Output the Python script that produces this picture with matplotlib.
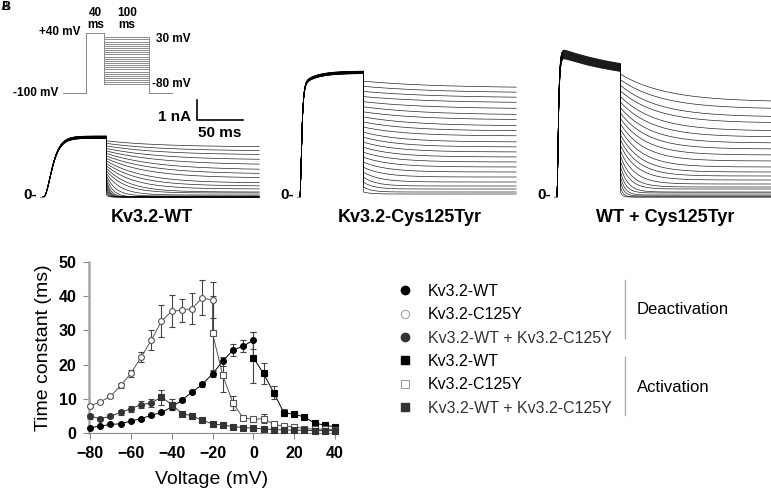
import numpy as np
import matplotlib.pyplot as plt
from matplotlib.lines import Line2D

plt.rcParams['font.family'] = ['Liberation Sans', 'DejaVu Sans']

W, H = 771, 492
fig = plt.figure(figsize=(W / 100, H / 100), dpi=100)


def px_axes(left, top, right, bottom):
    # axes placed by pixel box (origin top-left)
    return fig.add_axes([left / W, 1 - bottom / H, (right - left) / W, (bottom - top) / H])


# ---------------- time constants (lower plot) ----------------
wt_deact_v = [-80, -75, -70, -65, -60, -55, -50, -45, -40, -35, -30, -25, -20, -15, -10, -5, 0]
wt_deact = [1.6, 2.0, 2.5, 2.7, 3.5, 4.2, 5.2, 6.0, 7.6, 9.6, 12.0, 14.2, 17.3, 21.0, 24.2, 25.4, 27.1]
wt_deact_err = [0.2, 0.2, 0.2, 0.3, 0.3, 0.3, 0.4, 0.4, 0.5, 0.5, 0.6, 0.8, 1.0, 1.3, 1.7, 1.8, 2.4]

mut_deact_v = [-80, -75, -70, -65, -60, -55, -50, -45, -40, -35, -30, -25, -20]
mut_deact = [7.9, 9.1, 10.7, 13.9, 17.4, 22.2, 27.1, 32.7, 35.6, 35.9, 36.4, 39.5, 38.8]
mut_deact_err = [0.4, 0.4, 0.5, 0.6, 1.1, 1.5, 2.9, 4.6, 4.7, 3.4, 4.4, 5.1, 5.3]

mix_deact_v = [-80, -75, -70, -65, -60, -55, -50]
mix_deact = [4.9, 4.2, 4.9, 6.0, 7.1, 8.3, 8.8]
mix_deact_err = [0.8, 0.5, 0.6, 0.7, 0.9, 1.0, 1.2]

wt_act_v = [0, 5, 10, 15, 20, 25, 30, 35, 40]
wt_act = [22.0, 17.4, 11.8, 5.9, 5.5, 4.7, 2.9, 2.3, 1.8]
wt_act_err = [7.5, 3.0, 2.0, 1.0, 0.5, 0.4, 0.3, 0.2, 0.2]

mut_act_v = [-20, -15, -10, -5, 0, 5, 10, 15, 20, 25, 30, 35, 40]
mut_act = [29.2, 16.9, 8.8, 4.4, 4.0, 4.2, 2.5, 2.0, 1.8, 1.3, 1.1, 1.1, 1.0]
mut_act_err = [11.0, 5.0, 2.0, 0.6, 0.8, 1.3, 0.4, 0.3, 0.3, 0.2, 0.2, 0.2, 0.2]

mix_act_v = [-45, -40, -35, -30, -25, -20, -15, -10, -5, 0, 5, 10, 15, 20, 25, 30, 35, 40]
mix_act = [10.5, 8.3, 5.7, 5.0, 3.7, 2.7, 2.3, 1.9, 1.6, 1.4, 1.2, 1.0, 0.9, 0.8, 0.8, 0.7, 0.7, 0.7]
mix_act_err = [2.2, 1.5, 0.8, 0.7, 0.4, 0.3, 0.2, 0.2, 0.2, 0.1, 0.1, 0.1, 0.1, 0.1, 0.1, 0.1, 0.1, 0.1]

# ---------------- current traces (upper panels) ----------------
tail_v = [30, 25, 20, 15, 10, 5, 0, -5, -10, -15, -20, -25, -30, -35, -40, -45, -50, -55, -60, -65, -70, -75, -80]
V_STEP, V_HOLD, E_K = 40, -100, -85

wt_tail_end = [2.5, 2.3, 2.1, 1.85, 1.6, 1.35, 1.15, 0.95, 0.7, 0.55, 0.4, 0.25, 0.2, 0.1, 0.05, 0, 0, 0, 0, 0, 0, 0, 0]
wt_tail_tau = [60, 60, 60, 60, 60, 55, 50, 45, 40, 35, 30, 25, 20, 15, 10, 7, 5, 4, 3.5, 3, 2.5, 2.2, 1.5]
mut_tail_end = [5.45, 5.2, 4.95, 4.7, 4.4, 4.1, 3.85, 3.55, 3.3, 3.05, 2.75, 2.5, 2.25, 2.0, 1.75, 1.5,
                1.25, 1.0, 0.75, 0.55, 0.4, 0.25, 0.15]
mut_tail_tau = [80, 80, 80, 75, 70, 65, 60, 55, 50, 45, 40, 38, 36, 34, 32, 30, 26, 22, 18, 14, 11, 9, 8]
mix_tail_end = [4.75, 4.4, 4.0, 3.7, 3.3, 3.0, 2.7, 2.4, 2.1, 1.8, 1.5, 1.25, 1.05, 0.85, 0.65, 0.5,
                0.4, 0.25, 0.2, 0.1, 0.05, 0, 0]
mix_tail_tau = [50, 45, 42, 40, 38, 35, 32, 30, 28, 26, 24, 22, 20, 18, 15, 12, 10, 8, 6, 5, 4, 3, 2]

STEP_MS, TAIL_MS = 69, 166
t_step = np.linspace(0, STEP_MS, 400)
t_tail = np.linspace(0, TAIL_MS, 600)

# step currents (nA) for the +40 mV pulse
wt_step = 3.05 * (1 - np.exp(-t_step / 6.5)) ** 3
mut_step = 5.6 * (1 - np.exp(-t_step / 1.5)) ** 2 + 0.7 * (1 - np.exp(-t_step / 15))
mix_step = 7.5 * (1 - np.exp(-t_step / 1.2)) ** 2 * (0.81 + 0.19 * np.exp(-t_step / 80))

MS_PER_PX = 50 / 46
PX_PER_NA = 20
ZERO_Y = 197


def trace_panel(x_start, step, spread, tail_end, tail_tau):
    left, right, top, bottom = x_start - 30, x_start + 240, 20, 212
    ax = px_axes(left, top, right, bottom)
    ax.set_xlim((left - x_start) * MS_PER_PX, (right - x_start) * MS_PER_PX)
    ax.set_ylim((ZERO_Y - bottom) / PX_PER_NA, (ZERO_Y - top) / PX_PER_NA)
    ax.axis('off')
    scales = np.linspace(1.0, 1.0 - spread, len(tail_v))
    for v, s, i_end, tau in zip(tail_v, scales, tail_end, tail_tau):
        i_step = step * s
        i0 = i_step[-1] * (v - E_K) / (V_STEP - E_K)
        i_tail = i_end + (i0 - i_end) * np.exp(-t_tail / tau)
        ax.plot(np.concatenate([t_step, STEP_MS + t_tail]),
                np.concatenate([i_step, i_tail]), color='black', lw=0.5, alpha=0.85)
    ax.plot([-3.5, 0], [0, 0], color='#888888', lw=0.8)
    ax.text(-6, 0.1, '0-', ha='right', va='center', fontsize=11, fontweight='bold')
    return ax


ax_wt = trace_panel(43, wt_step, 0.04, wt_tail_end, wt_tail_tau)
ax_mut = trace_panel(300, mut_step, 0.02, mut_tail_end, mut_tail_tau)
ax_mix = trace_panel(557, mix_step, 0.06, mix_tail_end, mix_tail_tau)

fig.text(152 / W, 1 - 218 / H, 'Kv3.2-WT', fontsize=13, fontweight='bold', ha='center', va='center')
fig.text(410 / W, 1 - 218 / H, 'Kv3.2-Cys125Tyr', fontsize=13, fontweight='bold', ha='center', va='center')
fig.text(665 / W, 1 - 218 / H, 'WT + Cys125Tyr', fontsize=13, fontweight='bold', ha='center', va='center')

# scale bar (1 nA, 50 ms) in WT panel units
sb_t, sb_i = 167, 3.85
ax_wt.plot([sb_t, sb_t, sb_t + 50], [sb_i + 1, sb_i, sb_i], color='black', lw=1.2)
ax_wt.text(sb_t - 6, sb_i + 0.15, '1 nA', ha='right', va='center', fontsize=11, fontweight='bold')
ax_wt.text(sb_t + 25, sb_i - 0.65, '50 ms', ha='center', va='center', fontsize=11, fontweight='bold')

# voltage protocol
ax_p = px_axes(20, 5, 200, 100)
P_MS_PER_PX, P_PX_PER_MV, P_X0 = 2.2, 60 / 140, 63
ax_p.set_xlim((20 - P_X0) * P_MS_PER_PX, (200 - P_X0) * P_MS_PER_PX)
ax_p.set_ylim(V_HOLD - (100 - 93) / P_PX_PER_MV, V_HOLD + (93 - 5) / P_PX_PER_MV)
ax_p.axis('off')
for v in tail_v:
    ax_p.plot([0, 50, 50, 90, 90, 190, 190, 240],
              [V_HOLD, V_HOLD, V_STEP, V_STEP, v, v, V_HOLD, V_HOLD], color='#8c8c8c', lw=0.7)
pk = dict(fontsize=8.5, fontweight='bold', va='center')
ax_p.text(38, 42, '+40 mV', ha='right', **pk)
ax_p.text(-11, -100, '-100 mV', ha='right', **pk)
ax_p.text(205, 26, '30 mV', ha='left', **pk)
ax_p.text(196, -80, '-80 mV', ha='left', **pk)
ax_p.text(72, 72, '40\nms', ha='center', linespacing=1.0, **pk)
ax_p.text(141, 72, '100\nms', ha='center', linespacing=1.0, **pk)

fig.text(1 / W, 1 - 7 / H, 'A', fontsize=9, fontweight='bold', va='center', color='#555555')
fig.text(1 / W, 1 - 7 / H, 'B', fontsize=9, fontweight='bold', va='center')

# ---------------- time-constant plot ----------------
ax = px_axes(89, 262, 336, 433)
ax.set_xlim(-80.5, 40.5)
ax.set_ylim(0, 50)

groups = [
    (wt_deact_v, wt_deact, wt_deact_err, wt_act_v, wt_act, wt_act_err, 'black', 'black', 'black'),
    (mut_deact_v, mut_deact, mut_deact_err, mut_act_v, mut_act, mut_act_err, 'white', '#555555', '#555555'),
    (mix_deact_v, mix_deact, mix_deact_err, mix_act_v, mix_act, mix_act_err, '#333333', '#333333', '#333333'),
]
for dv, dt, de, av, at, ae, fc, ec, lc in groups:
    ax.plot(dv + av, dt + at, color=lc, lw=0.7, zorder=1, clip_on=False)
    ax.errorbar(dv, dt, yerr=de, fmt='none', ecolor='#444444', elinewidth=0.8,
                capsize=2.5, capthick=0.8, zorder=2, clip_on=False)
    ax.errorbar(av, at, yerr=ae, fmt='none', ecolor='#444444', elinewidth=0.8,
                capsize=2.5, capthick=0.8, zorder=2, clip_on=False)
    ax.plot(dv, dt, ls='none', marker='o', ms=4.2, mfc=fc, mec=ec, mew=0.8, zorder=3, clip_on=False)
    ax.plot(av, at, ls='none', marker='s', ms=3.9, mfc=fc, mec=ec, mew=0.8, zorder=3, clip_on=False)

ax.spines['top'].set_visible(False)
ax.spines['right'].set_visible(False)
ax.spines['left'].set_color('#a6a6a6')
ax.spines['left'].set_linewidth(1.8)
ax.spines['bottom'].set_color('#8c8c8c')
ax.spines['bottom'].set_linewidth(0.8)
ax.set_xticks([-80, -60, -40, -20, 0, 20, 40])
ax.set_yticks([0, 10, 20, 30, 40, 50])
ax.tick_params(color='#8c8c8c', length=4, width=0.8, labelsize=11.5, pad=5)
for lab in ax.get_xticklabels() + ax.get_yticklabels():
    lab.set_fontweight('bold')
ax.set_ylabel('Time constant (ms)', fontsize=14)
ax.set_xlabel('Voltage (mV)', fontsize=14)
ax.yaxis.set_label_coords((52 - 89) / 247, 0.5)
ax.xaxis.set_label_coords((212 - 89) / 247, (433 - 471) / 171)

# ---------------- legend ----------------
handles = [
    Line2D([], [], ls='none', marker='o', ms=6, mfc='black', mec='black'),
    Line2D([], [], ls='none', marker='o', ms=6, mfc='white', mec='#999999', mew=0.7),
    Line2D([], [], ls='none', marker='o', ms=6, mfc='#333333', mec='#333333'),
    Line2D([], [], ls='none', marker='s', ms=6, mfc='black', mec='black'),
    Line2D([], [], ls='none', marker='s', ms=6, mfc='white', mec='#999999', mew=0.7),
    Line2D([], [], ls='none', marker='s', ms=6, mfc='#333333', mec='#333333'),
]
labels = ['Kv3.2-WT', 'Kv3.2-C125Y', 'Kv3.2-WT + Kv3.2-C125Y'] * 2
leg = fig.legend(handles, labels, loc='upper left', bbox_to_anchor=(389 / W, 1 - 276 / H),
                 frameon=False, fontsize=11.5, borderpad=0, handlelength=1.0,
                 handletextpad=0.95, labelspacing=0.52)
for i, t in enumerate(leg.get_texts()):
    t.set_color('#333333' if i % 3 == 2 else 'black')

for y0, y1 in [(280, 338), (357, 415)]:
    fig.add_artist(Line2D([625 / W, 625 / W], [1 - y0 / H, 1 - y1 / H], transform=fig.transFigure,
                          color='#aaaaaa', lw=1))
fig.text(637 / W, 1 - 310 / H, 'Deactivation', fontsize=12, va='center')
fig.text(637 / W, 1 - 387 / H, 'Activation', fontsize=12, va='center')

fig.savefig('out.png', dpi=100)
